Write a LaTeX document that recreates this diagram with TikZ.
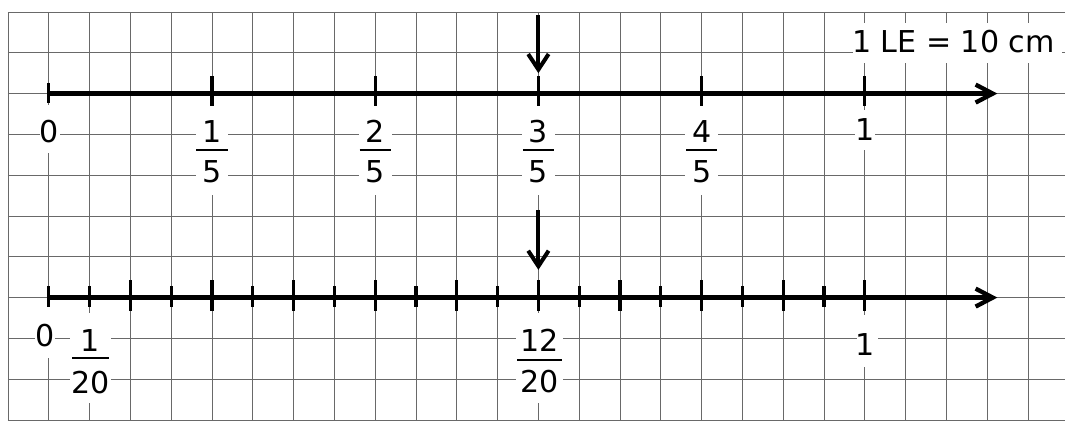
\documentclass[tikz,border=0pt]{standalone}
\usepackage{fontspec}
\setmainfont{DejaVu Sans}
\usetikzlibrary{arrows.meta}
\definecolor{gridc}{RGB}{105,105,105}
\tikzset{
  gridline/.style={draw=gridc, line width=0.6pt},
  axisline/.style={line width=3.0pt, -{Straight Barb[length=0.42cm, width=0.44cm]}},
  downarrow/.style={line width=2.8pt, -{Straight Barb[length=0.38cm, width=0.5cm]}},
  tickline/.style={line width=2.2pt},
  barline/.style={line width=1.5pt},
  lab/.style={font=\fontsize{21}{25}\selectfont, inner sep=0pt, anchor=base},
  whitebox/.style={fill=white}
}
\begin{document}
\begin{tikzpicture}
\useasboundingbox[fill=white] (-0.196,0.294) rectangle (25.907,-10.074);
% grid
\foreach \c in {0,...,25} \draw[gridline] (\c,0) -- (\c,-10);
\foreach \r in {0,...,10} \draw[gridline] (0,-\r) -- (25.907,-\r);
% white boxes behind labels
\foreach \c/\hw in {5/0.4,9/0.4,13/0.4,17/0.4} \fill[whitebox] (\c-\hw,-2.3) rectangle (\c+\hw,-4.49);
\fill[whitebox] (2.02-0.5,-7.37) rectangle (2.02+0.5,-9.58);
\fill[whitebox] (13.03-0.57,-7.37) rectangle (13.03+0.57,-9.58);
\fill[whitebox] (0.78,-2.28) rectangle (1.27,-3.46);
\fill[whitebox] (20.76,-2.40) rectangle (21.25,-3.38);
\fill[whitebox] (0.66,-7.23) rectangle (1.15,-8.48);
\fill[whitebox] (20.8,-7.43) rectangle (21.32,-8.70);
\fill[whitebox] (20.71,-0.27) rectangle (25.83,-1.25);
% axes
\coordinate (a1s) at (1,-2);
\coordinate (a1e) at (24.25,-2);
\coordinate (a2s) at (1,-7);
\coordinate (a2e) at (24.25,-7);
\draw[axisline] (a1s) -- (a1e);
\draw[axisline] (a2s) -- (a2e);
% ticks top axis
\draw[tickline] (1,-2+0.26) -- (1,-2-0.23);
\foreach \k in {1,...,5} \draw[tickline] (1+4*\k,-2+0.42) -- (1+4*\k,-2-0.3);
% ticks bottom axis
\draw[tickline] (1,-7+0.28) -- (1,-7-0.24);
\foreach \k in {1,...,20} {
  \pgfmathsetmacro\up{ifthenelse(mod(\k,2)==1,0.28,0.42)}
  \pgfmathsetmacro\dn{ifthenelse(mod(\k,2)==1,0.24,0.34)}
  \draw[tickline] (1+\k,-7+\up) -- (1+\k,-7-\dn);
}
% arrows
\coordinate (p1s) at (13,-0.07);
\coordinate (p1e) at (13,-1.5);
\coordinate (p2s) at (13,-4.85);
\coordinate (p2e) at (13,-6.32);
\draw[downarrow] (p1s) -- (p1e);
\draw[downarrow] (p2s) -- (p2e);
% top labels
\node[lab] (t0) at (1,-3.21) {0};
\node[lab] (t1) at (21,-3.14) {1};
\foreach \c/\n/\d in {5/1/5,9/2/5,13/3/5,17/4/5} {
  \node[lab] (tn\c) at (\c,-3.19) {\n};
  \node[lab] (td\c) at (\c,-4.17) {\d};
  \draw[barline] (\c-0.38,-3.38) -- (\c+0.38,-3.38);
}
% bottom labels
\node[lab] (b0) at (0.91,-8.21) {0};
\node[lab] (b1) at (21,-8.41) {1};
\node[lab] (bn1) at (2.02,-8.33) {1};
\node[lab] (bd1) at (2.02,-9.34) {20};
\draw[barline] (2.02-0.45,-8.49) -- (2.02+0.45,-8.49);
\node[lab] (bn12) at (13.03,-8.33) {12};
\node[lab] (bd12) at (13.03,-9.32) {20};
\draw[barline] (13.03-0.55,-8.52) -- (13.03+0.55,-8.52);
% scale note
\node[lab, anchor=base west] (le) at (20.68,-1.0) {1 LE = 10 cm};
\end{tikzpicture}
\end{document}
